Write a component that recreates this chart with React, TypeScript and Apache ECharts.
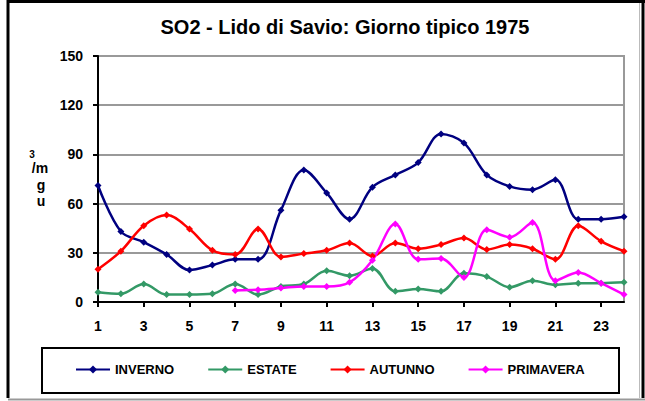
import React, { useEffect, useRef } from "react";
import * as echarts from "echarts";

const hours = ["1", "2", "3", "4", "5", "6", "7", "8", "9", "10", "11", "12", "13", "14", "15", "16", "17", "18", "19", "20", "21", "22", "23", "24"];
const inverno = [71, 43, 36.5, 29, 19.5, 22.5, 26, 26, 56, 80.5, 66.5, 50.5, 70, 77.5, 85, 102.5, 97, 77.5, 70.5, 68.5, 74.5, 50.5, 50.5, 52];
const estate = [6, 5, 11, 4.5, 4.5, 5, 11, 4.5, 9.5, 11, 19, 16, 20.5, 6.5, 8, 6.5, 17.5, 15.5, 9, 13, 10.5, 11.5, 11.5, 12];
const autunno = [20, 31, 46.5, 53, 44.5, 31.5, 29, 44.5, 27.5, 29.5, 31.5, 36, 28, 36, 32.5, 35, 39, 32, 35, 32.5, 26, 46.5, 37, 31];
const primavera = [null, null, null, null, null, null, 7, 7.5, 8.5, 9.5, 9.5, 12, 25.5, 47.5, 26, 26.5, 15, 44, 39.5, 48.5, 13, 18, 11.5, 4.5];
const seriesNames = ["INVERNO", "ESTATE", "AUTUNNO", "PRIMAVERA"];
const seriesColors = ["#000080", "#339966", "#FF0000", "#FF00FF"];
const yTicks = { min: 0, max: 150, interval: 30 };
const titleText = "SO2 - Lido di Savio: Giorno tipico 1975";
const unitGlyphs = ["3", "/m", "g", "u"];

const FONT = "'Liberation Sans', Arial, sans-serif";

export default function App() {
  const ref = useRef<HTMLDivElement>(null);
  useEffect(() => {
    if (!ref.current) return;
    const chart = echarts.init(ref.current, null, { renderer: "svg" });
    const datas = [inverno, estate, autunno, primavera];
    chart.setOption({
      animation: false,
      backgroundColor: "#ffffff",
      title: {
        text: titleText,
        left: 345,
        top: 17,
        textAlign: "center",
        padding: 0,
        textStyle: { fontFamily: FONT, fontSize: 20, fontWeight: "bold", color: "#000" },
      },
      grid: {
        left: 98,
        right: 21,
        top: 56,
        bottom: 99,
        show: true,
        borderColor: "#999999",
        borderWidth: 2,
        backgroundColor: "transparent",
      },
      legend: {
        data: seriesNames,
        left: 75,
        top: 363,
        padding: 0,
        itemWidth: 34,
        itemHeight: 10,
        itemGap: 33,
        textStyle: { fontFamily: FONT, fontSize: 13, fontWeight: "bold", color: "#000" },
      },
      xAxis: {
        type: "category",
        data: hours,
        boundaryGap: false,
        axisLine: { lineStyle: { color: "#000", width: 2 } },
        axisTick: { show: true, interval: 1, length: 5, inside: false, lineStyle: { color: "#000", width: 2 } },
        axisLabel: { interval: 1, margin: 17, fontFamily: FONT, fontSize: 14, fontWeight: "bold", color: "#000" },
        splitLine: { show: false },
      },
      yAxis: {
        type: "value",
        min: yTicks.min,
        max: yTicks.max,
        interval: yTicks.interval,
        axisLine: { show: true, lineStyle: { color: "#000", width: 2 } },
        axisTick: { show: true, length: 5, lineStyle: { color: "#000", width: 2 } },
        axisLabel: { margin: 15, fontFamily: FONT, fontSize: 14, fontWeight: "bold", color: "#000" },
        splitLine: { show: true, lineStyle: { color: "#999999", width: 2 } },
      },
      series: seriesNames.map((name, i) => ({
        name,
        type: "line",
        data: datas[i],
        smooth: 0.35,
        symbol: "diamond",
        symbolSize: 7,
        showSymbol: true,
        connectNulls: false,
        color: seriesColors[i],
        lineStyle: { color: seriesColors[i], width: 2.5 },
        itemStyle: { color: seriesColors[i] },
      })),
      graphic: [
        { type: "line", shape: { x1: 7, y1: 1.5, x2: 645, y2: 1.5 }, style: { stroke: "#000", lineWidth: 3 } },
        { type: "line", shape: { x1: 8, y1: 0, x2: 8, y2: 398 }, style: { stroke: "#000", lineWidth: 3 } },
        { type: "line", shape: { x1: 643, y1: 0, x2: 643, y2: 398 }, style: { stroke: "#000", lineWidth: 3 } },
        { type: "line", shape: { x1: 639.5, y1: 3, x2: 639.5, y2: 398 }, style: { stroke: "#bbbbbb", lineWidth: 1 } },
        { type: "line", shape: { x1: 8, y1: 399.5, x2: 645, y2: 399.5 }, style: { stroke: "#999999", lineWidth: 2 } },
        { type: "rect", shape: { x: 42, y: 348, width: 577, height: 45 }, style: { fill: "none", stroke: "#000", lineWidth: 2 } },
        { type: "text", x: 32, y: 154, style: { text: unitGlyphs[0], font: `bold 10px ${FONT}`, fill: "#000", align: "center", verticalAlign: "middle" } },
        { type: "text", x: 40, y: 168, style: { text: unitGlyphs[1], font: `bold 14px ${FONT}`, fill: "#000", align: "center", verticalAlign: "middle" } },
        { type: "text", x: 41, y: 185, style: { text: unitGlyphs[2], font: `bold 14px ${FONT}`, fill: "#000", align: "center", verticalAlign: "middle" } },
        { type: "text", x: 41, y: 201, style: { text: unitGlyphs[3], font: `bold 14px ${FONT}`, fill: "#000", align: "center", verticalAlign: "middle" } },
      ],
    });
    return () => chart.dispose();
  }, []);
  return <div ref={ref} style={{ position: "fixed", left: 0, top: 0, width: 645, height: 401 }} />;
}
